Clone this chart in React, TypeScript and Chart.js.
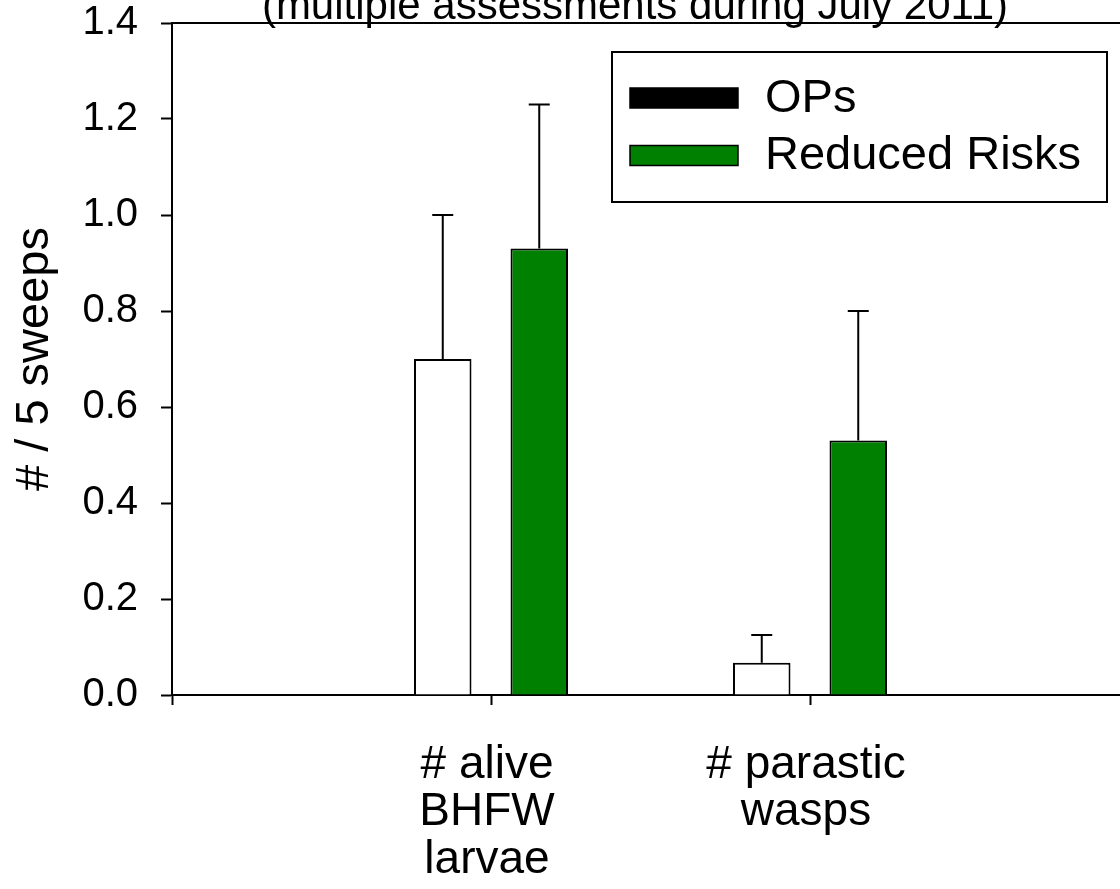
import React, { useEffect, useRef } from 'react';
import { Chart, registerables } from 'chart.js';

Chart.register(...registerables);

const TITLE = '(multiple assessments during July 2011)';
const Y_TITLE = '# / 5 sweeps';
const CATEGORIES = [['# alive', 'BHFW', 'larvae'], ['# parastic', 'wasps']];
const SERIES_NAMES = ['OPs', 'Reduced Risks'];
const OPS_MEANS = [0.7, 0.067];
const OPS_ERRORS = [0.3, 0.058];
const RR_MEANS = [0.93, 0.53];
const RR_ERRORS = [0.3, 0.27];
const Y_MIN = 0;
const Y_MAX = 1.4;
const Y_STEP = 0.2;

const FONT = "'Liberation Sans', Arial, Helvetica, sans-serif";
const GREEN = '#008000';

const pad = (arr: any[]) => [null, ...arr, null];

const errorBarPlugin = {
  id: 'errorBars',
  afterDatasetsDraw(chart: any, _args: any, opts: any) {
    const ctx = chart.ctx;
    const y = chart.scales.y;
    chart.data.datasets.forEach((ds: any, di: number) => {
      const meta = chart.getDatasetMeta(di);
      meta.data.forEach((el: any, i: number) => {
        const v = ds.data[i];
        const e = ds.errors ? ds.errors[i] : null;
        if (v == null || e == null) return;
        const top = y.getPixelForValue(v + e);
        ctx.save();
        ctx.strokeStyle = opts.color;
        ctx.lineWidth = opts.width;
        ctx.beginPath();
        ctx.moveTo(el.x, el.y);
        ctx.lineTo(el.x, top);
        ctx.moveTo(el.x - opts.cap / 2, top);
        ctx.lineTo(el.x + opts.cap / 2, top);
        ctx.stroke();
        ctx.restore();
      });
    });
  },
};

const framePlugin = {
  id: 'frameTop',
  afterDraw(chart: any, _args: any, opts: any) {
    const { ctx, chartArea } = chart;
    ctx.save();
    ctx.strokeStyle = opts.color;
    ctx.lineWidth = opts.width;
    ctx.beginPath();
    ctx.moveTo(chartArea.left, chartArea.top);
    ctx.lineTo(chartArea.right, chartArea.top);
    ctx.stroke();
    ctx.fillStyle = '#000';
    ctx.font = `${opts.titleSize}px ${FONT}`;
    ctx.textAlign = 'center';
    ctx.textBaseline = 'alphabetic';
    ctx.fillText(opts.title, opts.titleX, opts.titleY);
    ctx.restore();
  },
};

const boxLegendPlugin = {
  id: 'boxLegend',
  afterDraw(chart: any, _args: any, opts: any) {
    const ctx = chart.ctx;
    const { left, top, width, height } = opts.box;
    ctx.save();
    ctx.fillStyle = '#fff';
    ctx.fillRect(left, top, width, height);
    ctx.strokeStyle = '#000';
    ctx.lineWidth = 2;
    ctx.strokeRect(left, top, width, height);
    ctx.font = `${opts.fontSize}px ${FONT}`;
    ctx.textAlign = 'left';
    ctx.textBaseline = 'middle';
    chart.data.datasets.forEach((ds: any, i: number) => {
      const cy = opts.rows[i];
      ctx.fillStyle = opts.swatchFill[i];
      ctx.fillRect(opts.swatchX, cy - opts.swatchH / 2, opts.swatchW, opts.swatchH);
      ctx.strokeStyle = '#000';
      ctx.lineWidth = 1.5;
      ctx.strokeRect(opts.swatchX, cy - opts.swatchH / 2, opts.swatchW, opts.swatchH);
      ctx.fillStyle = '#000';
      ctx.fillText(ds.label, opts.textX, cy + 1);
    });
    ctx.restore();
  },
};

const zeroPadding = (s: any) => {
  s.paddingLeft = 0;
  s.paddingRight = 0;
  s.paddingTop = 0;
  s.paddingBottom = 0;
};

export default function App() {
  const ref = useRef<HTMLCanvasElement | null>(null);

  useEffect(() => {
    if (!ref.current) return;
    const chart = new Chart(ref.current, {
      type: 'bar',
      data: {
        labels: ['', ...CATEGORIES, ''] as any,
        datasets: [
          {
            label: SERIES_NAMES[0],
            data: pad(OPS_MEANS),
            errors: pad(OPS_ERRORS),
            backgroundColor: '#ffffff',
            borderColor: '#000000',
            borderWidth: 2,
            categoryPercentage: 0.605,
            barPercentage: 0.596,
          } as any,
          {
            label: SERIES_NAMES[1],
            data: pad(RR_MEANS),
            errors: pad(RR_ERRORS),
            backgroundColor: GREEN,
            borderColor: '#000000',
            borderWidth: 2,
            categoryPercentage: 0.605,
            barPercentage: 0.596,
          } as any,
        ],
      },
      options: {
        responsive: false,
        animation: false,
        devicePixelRatio: 1,
        layout: { padding: { left: 0, right: 1, top: 23, bottom: 0 } },
        scales: {
          x: {
            type: 'category',
            offset: false,
            grid: {
              display: true,
              offset: false,
              drawOnChartArea: false,
              drawTicks: true,
              tickLength: 10,
              tickWidth: 2,
              tickColor: '#000',
            },
            border: { display: true, color: '#000', width: 2 },
            ticks: {
              autoSkip: false,
              maxRotation: 0,
              minRotation: 0,
              padding: 36,
              labelOffset: -4,
              color: '#000',
              font: { family: FONT, size: 46, lineHeight: 1.04 },
            },
            afterFit: (s: any) => {
              s.height = 194;
              zeroPadding(s);
            },
          },
          y: {
            type: 'linear',
            min: Y_MIN,
            max: Y_MAX,
            grid: {
              drawOnChartArea: false,
              drawTicks: true,
              tickLength: 11,
              tickWidth: 2,
              tickColor: '#000',
            },
            border: { display: true, color: '#000', width: 2 },
            ticks: {
              stepSize: Y_STEP,
              padding: 23,
              color: '#000',
              font: { family: FONT, size: 40 },
              callback: (v: any) => Number(v).toFixed(1),
            },
            title: {
              display: true,
              text: Y_TITLE,
              color: '#000',
              font: { family: FONT, size: 47, lineHeight: 1.2 },
              padding: { top: 7, bottom: 0 },
            },
            afterFit: (s: any) => {
              s.width = 172;
              zeroPadding(s);
            },
          },
        },
        plugins: {
          legend: { display: false },
          title: { display: false },
          tooltip: { enabled: false },
          errorBars: { color: '#000', width: 2, cap: 21 },
          frameTop: { color: '#000', width: 2, title: TITLE, titleSize: 42, titleX: 635, titleY: 19 },
          boxLegend: {
            box: { left: 612, top: 52, width: 495, height: 150 },
            fontSize: 47,
            swatchX: 630,
            swatchW: 108,
            swatchH: 20,
            textX: 765,
            rows: [98, 155.5],
            swatchFill: ['#000000', GREEN],
          },
        } as any,
      },
      plugins: [errorBarPlugin, framePlugin, boxLegendPlugin],
    });
    return () => chart.destroy();
  }, []);

  return (
    <div
      style={{
        position: 'absolute',
        left: 0,
        top: 0,
        width: 1120,
        height: 889,
        overflow: 'hidden',
        background: '#fff',
      }}
    >
      <canvas ref={ref} width={1130} height={889} style={{ display: 'block', width: 1130, height: 889 }} />
    </div>
  );
}
